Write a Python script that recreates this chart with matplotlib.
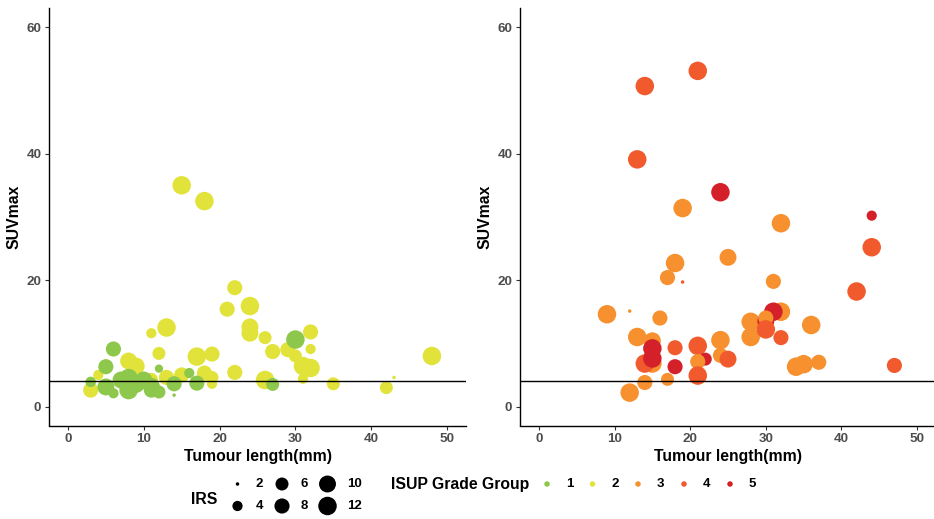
import numpy as np
import matplotlib
matplotlib.use("Agg")
import matplotlib.pyplot as plt

plt.rcParams['font.family'] = ['Liberation Sans', 'DejaVu Sans']
plt.rcParams['font.weight'] = 'bold'

# ---- data ----
# left panel: ISUP grade groups 1-2
left_len = [3, 3, 4, 8, 9, 11, 12, 13, 15, 18, 17, 19, 19, 19, 21, 22, 22,
            24, 24, 24, 26, 26, 27, 29, 30, 31, 31, 32, 32, 32, 35, 42, 43, 48,
            11, 13, 15, 18,
            3, 5, 5, 6, 6, 7, 8, 8, 9, 10, 11, 11, 12, 12, 14, 14, 16, 17, 27, 30]
left_suv = [2.6, 3.9, 5.0, 7.2, 6.4, 11.6, 8.4, 12.5, 35.0, 32.5, 7.9, 8.3, 4.6, 3.6, 15.4, 18.8, 5.4,
            15.9, 12.6, 11.6, 10.9, 4.2, 8.7, 9.0, 8.0, 6.4, 4.4, 11.8, 9.1, 6.1, 3.6, 3.0, 4.6, 8.0,
            4.3, 4.6, 5.0, 5.3,
            3.9, 6.3, 3.1, 9.1, 2.1, 4.2, 4.5, 2.6, 3.5, 4.2, 2.6, 3.2, 2.3, 6.0, 3.6, 1.8, 5.3, 3.7, 3.5, 10.6]
left_grade = [2, 1, 2, 2, 2, 2, 2, 2, 2, 2, 2, 2, 2, 2, 2, 2, 2,
              2, 2, 2, 2, 2, 2, 2, 2, 2, 2, 2, 2, 2, 2, 2, 2, 2,
              2, 2, 2, 2,
              1, 1, 1, 1, 1, 1, 1, 1, 1, 1, 1, 1, 1, 1, 1, 1, 1, 1, 1, 1]
left_irs = [8, 4, 4, 10, 10, 4, 6, 12, 12, 12, 12, 8, 6, 4, 8, 8, 8,
            12, 10, 10, 6, 12, 8, 8, 6, 12, 4, 8, 4, 12, 6, 6, 2, 12,
            6, 8, 8, 8,
            4, 8, 10, 8, 4, 10, 12, 12, 10, 10, 8, 10, 6, 3, 8, 2, 4, 8, 6, 12]

# right panel: ISUP grade groups 3-5
right_len = [14, 21, 13, 24, 19, 32, 44, 44, 18, 25, 17, 31, 19, 42, 9, 12, 16,
             32, 31, 36, 28, 28, 30, 30, 30, 32, 34, 35, 37, 47, 24, 24, 25,
             21, 22, 21, 21, 18, 18, 17, 13, 15, 15, 15, 14, 15, 14, 12]
right_suv = [50.7, 53.1, 39.1, 33.9, 31.4, 29.0, 30.2, 25.2, 22.7, 23.6, 20.4, 19.8, 19.7, 18.2, 14.6, 15.1, 14.0,
             15.0, 15.0, 12.9, 13.4, 11.0, 13.5, 14.0, 12.2, 10.9, 6.3, 6.7, 7.0, 6.5, 10.5, 8.1, 7.5,
             9.6, 7.5, 7.1, 4.9, 9.3, 6.3, 4.3, 11.0, 10.4, 6.8, 9.2, 6.8, 7.6, 3.8, 2.2]
right_grade = [4, 4, 4, 5, 3, 3, 5, 4, 3, 3, 3, 3, 4, 4, 3, 3, 3,
               3, 5, 3, 3, 3, 5, 3, 4, 4, 3, 3, 3, 4, 3, 3, 4,
               4, 5, 3, 4, 4, 5, 3, 3, 3, 3, 5, 4, 5, 3, 3]
right_irs = [12, 12, 12, 12, 12, 12, 4, 12, 12, 10, 8, 8, 2, 12, 12, 2, 8,
             12, 12, 12, 12, 12, 10, 8, 12, 8, 12, 12, 8, 8, 12, 8, 10,
             12, 6, 8, 12, 8, 8, 6, 12, 10, 12, 12, 12, 12, 8, 12]

grade_colors = {1: '#8DC74C', 2: '#E1E33B', 3: '#F7902E', 4: '#F15A2C', 5: '#D42129'}
irs_breaks = [2, 4, 6, 8, 10, 12]
W, H = 934, 519


def irs_size(v):
    # area-like scale: diameter in px, converted to scatter area (pt^2)
    v = np.asarray(v, dtype=float)
    d = 3.5 + 15 * np.sqrt(np.clip((v - 2) / 10, 0, 1))
    return (d * 72 / 100) ** 2


def draw_panel(ax, xs, ys, grades, irs):
    cols = [grade_colors[g] for g in grades]
    ax.scatter(xs, ys, s=irs_size(irs), c=cols, linewidths=0, zorder=2)
    ax.axhline(4, color='black', lw=1.0, zorder=3)
    ax.set_xlim(-2.5, 52.5)
    ax.set_ylim(-3, 63)
    ax.set_xticks([0, 10, 20, 30, 40, 50])
    ax.set_yticks([0, 20, 40, 60])
    for s in ['top', 'right']:
        ax.spines[s].set_visible(False)
    for s in ['left', 'bottom']:
        ax.spines[s].set_linewidth(1.0)
    ax.tick_params(length=3, width=0.8, color='#333333', labelcolor='#4D4D4D',
                   labelsize=9.7, pad=2.5)
    for lab in ax.get_xticklabels() + ax.get_yticklabels():
        lab.set_fontweight('bold')
    ax.set_xlabel('Tumour length(mm)', fontsize=11.3, fontweight='bold', labelpad=2.5)
    ax.set_ylabel('SUVmax', fontsize=11.3, fontweight='bold', labelpad=3.5)


fig = plt.figure(figsize=(W / 100, H / 100), dpi=100)
ax1 = fig.add_axes([49 / W, (H - 425.5) / H, 417 / W, 417.2 / H])
ax2 = fig.add_axes([520 / W, (H - 425.5) / H, 416 / W, 417.2 / H])
draw_panel(ax1, left_len, left_suv, left_grade, left_irs)
draw_panel(ax2, right_len, right_suv, right_grade, right_irs)

# legends drawn in pixel space at the bottom
lg = fig.add_axes([0, 0, 1, 1], facecolor='none')
lg.set_xlim(0, W)
lg.set_ylim(H, 0)
lg.axis('off')

lg.text(191.5, 499, 'IRS', fontsize=11.3, fontweight='bold', va='center', ha='left')
key_x = [237.5, 237.5, 282, 282, 327.5, 327.5]
key_y = [484, 506, 484, 506, 484, 506]
lab_x = [259, 259, 304.5, 304.5, 354, 354]
lg.scatter(key_x, key_y, s=irs_size(irs_breaks), c='black', linewidths=0)
for lx, ky, b in zip(lab_x, key_y, irs_breaks):
    lg.text(lx, ky, str(b), fontsize=9.5, fontweight='bold', va='center', ha='center')

lg.text(391, 484, 'ISUP Grade Group', fontsize=11.3, fontweight='bold', va='center', ha='left')
grades = [1, 2, 3, 4, 5]
dot_x = [547, 592.5, 638, 684, 730]
lg.scatter(dot_x, [484] * 5, s=(5.5 * 0.72) ** 2, c=[grade_colors[g] for g in grades], linewidths=0)
for dx, g in zip(dot_x, grades):
    lg.text(dx + 22.5, 484, str(g), fontsize=9.5, fontweight='bold', va='center', ha='center')

fig.savefig('out.png', dpi=100)
